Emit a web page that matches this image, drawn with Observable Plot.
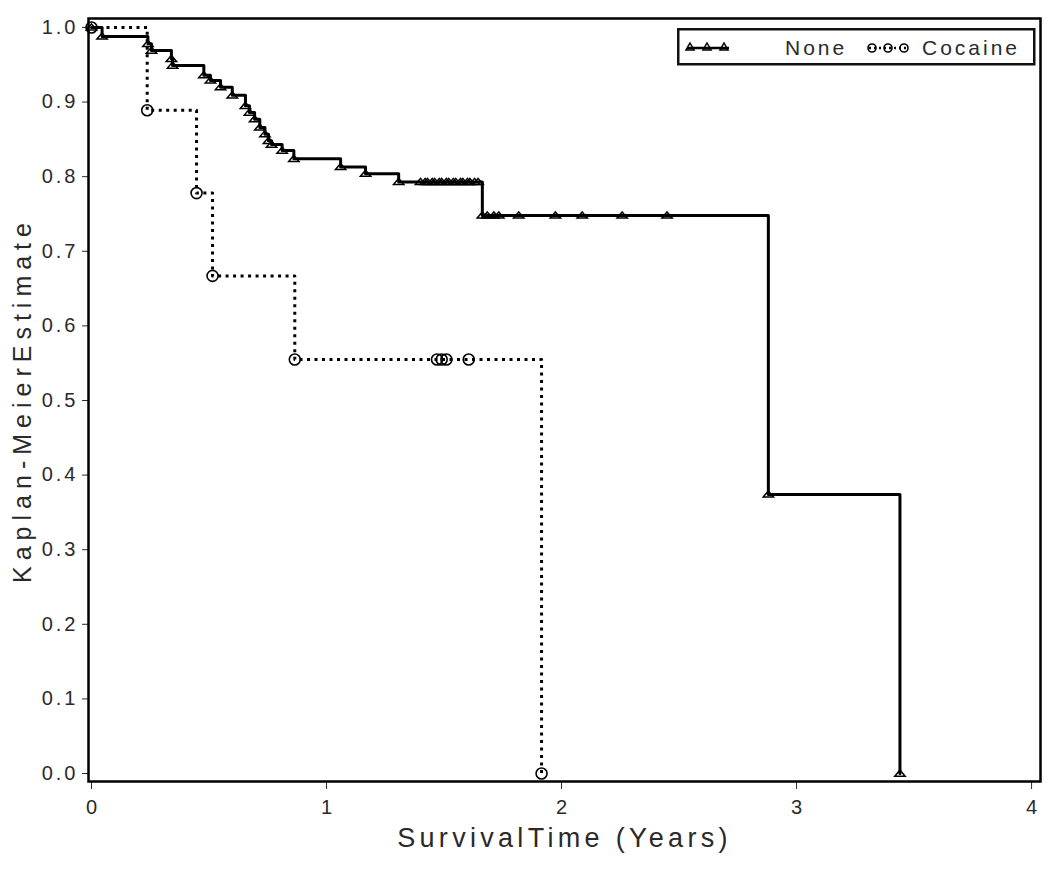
<!DOCTYPE html>
<html>
<head>
<meta charset="utf-8">
<script src="https://cdn.jsdelivr.net/npm/d3@7"></script>
<script src="https://cdn.jsdelivr.net/npm/@observablehq/plot@0.6"></script>
<style>
  body { margin: 0; background: #fff; }
  #wrap { position: relative; width: 1050px; height: 881px; background: #fff; }
  #legend { position: absolute; left: 677px; top: 28px; }
</style>
</head>
<body>
<div id="wrap"></div>
<script>
// ---- Data ----
// Group "None": Kaplan-Meier step points (time in years, survival estimate)
const noneTime = [0, 0.045, 0.24, 0.255, 0.34, 0.345, 0.478, 0.506, 0.549, 0.599, 0.655, 0.672, 0.694, 0.716, 0.738, 0.753, 0.766, 0.811, 0.861, 1.06, 1.166, 1.307, 1.663, 2.88, 3.44];
const noneSurv = [1.0, 0.988, 0.978, 0.969, 0.958, 0.949, 0.936, 0.929, 0.920, 0.909, 0.895, 0.886, 0.877, 0.866, 0.857, 0.848, 0.843, 0.835, 0.824, 0.813, 0.804, 0.793, 0.748, 0.374, 0.0];
// Group "None": censored observations
const noneCensTime = [1.40, 1.42, 1.43, 1.45, 1.46, 1.48, 1.49, 1.51, 1.52, 1.54, 1.55, 1.57, 1.58, 1.60, 1.61, 1.63, 1.645, 1.684, 1.712, 1.733, 1.818, 1.974, 2.088, 2.258, 2.449];
const noneCensSurv = [0.793, 0.793, 0.793, 0.793, 0.793, 0.793, 0.793, 0.793, 0.793, 0.793, 0.793, 0.793, 0.793, 0.793, 0.793, 0.793, 0.793, 0.748, 0.748, 0.748, 0.748, 0.748, 0.748, 0.748, 0.748];
// Group "Cocaine"
const cocTime = [0, 0.237, 0.447, 0.515, 0.865, 1.915];
const cocSurv = [1.0, 0.889, 0.778, 0.667, 0.555, 0.0];
const cocCensTime = [1.47, 1.49, 1.51, 1.605];
const cocCensSurv = [0.555, 0.555, 0.555, 0.555];

const groups = ["None", "Cocaine"];
const xTicks = [0, 1, 2, 3, 4];
const yTicks = [0, 0.1, 0.2, 0.3, 0.4, 0.5, 0.6, 0.7, 0.8, 0.9, 1.0];
const xTitle = "SurvivalTime (Years)";
const yTitle = "Kaplan-MeierEstimate";

// ---- Build tables ----
const noneSteps = noneTime.map((t, i) => ({t, s: noneSurv[i]}));
const noneCens = noneCensTime.map((t, i) => ({t, s: noneCensSurv[i]}));
const cocSteps = cocTime.map((t, i) => ({t, s: cocSurv[i]}));
const cocCens = cocCensTime.map((t, i) => ({t, s: cocCensSurv[i]}));

const flatTriangle = {
  draw(ctx, size) {
    const r = Math.sqrt(size / Math.PI);
    const w = r * 1.15, h = r * 0.78;
    ctx.moveTo(0, -h);
    ctx.lineTo(w, h * 0.75);
    ctx.lineTo(-w, h * 0.75);
    ctx.closePath();
  }
};

const FONT = "'Liberation Sans', Arial, sans-serif";
const INK = "#2a2a2a";

const chart = Plot.plot({
  width: 1050,
  height: 881,
  marginLeft: 88,
  marginRight: 10,
  marginTop: 18,
  marginBottom: 100,
  style: `font-family: ${FONT}; font-size: 20px; color: ${INK}; background: #fff; letter-spacing: 3px;`,
  x: {domain: [-0.0128, 4.038], ticks: xTicks, tickFormat: d => String(d), tickSize: 8, tickPadding: 10, label: null},
  y: {domain: [-0.0107, 1.012], ticks: yTicks, tickFormat: d => d.toFixed(1), tickSize: 6, tickPadding: 4, label: null},
  marks: [
    Plot.line(cocSteps, {x: "t", y: "s", curve: "step-after", stroke: "#000", strokeWidth: 3, strokeDasharray: "3,4.5", strokeLinecap: "butt"}),
    Plot.line(noneSteps, {x: "t", y: "s", curve: "step-after", stroke: "#000", strokeWidth: 3}),
    Plot.dot(cocSteps, {x: "t", y: "s", r: 5.5, symbol: "circle", stroke: "#000", strokeWidth: 1.6, fill: "none"}),
    Plot.dot(cocCens, {x: "t", y: "s", r: 5.5, symbol: "circle", stroke: "#000", strokeWidth: 1.6, fill: "none"}),
    Plot.dot(noneSteps, {x: "t", y: "s", r: 4.5, symbol: flatTriangle, stroke: "#000", strokeWidth: 1.5, fill: "none"}),
    Plot.dot(noneCens, {x: "t", y: "s", r: 4.5, symbol: flatTriangle, stroke: "#000", strokeWidth: 1.5, fill: "none"}),
    Plot.frame({stroke: "#000", strokeWidth: 2.5}),
    Plot.text([yTitle], {text: d => d, frameAnchor: "left", textAnchor: "middle", dx: -66, rotate: -90, fontSize: 25, fill: INK}),
    Plot.text([xTitle], {text: d => d, frameAnchor: "bottom", textAnchor: "middle", dy: 65, fontSize: 27, fill: INK})
  ]
});

const wrap = document.getElementById("wrap");
wrap.appendChild(chart);

// Letter spacing tweaks
const sel = d3.select(chart).selectAll("text");
sel.filter(function() { return this.textContent === yTitle; }).style("letter-spacing", "6px");
sel.filter(function() { return this.textContent === xTitle; }).style("letter-spacing", "4.3px");
sel.filter(function() { return xTicks.map(String).includes(this.textContent); }).style("letter-spacing", "0px");

// ---- Legend (inside plot area, top right) ----
const lg = d3.select(wrap).append("svg")
  .attr("id", "legend")
  .attr("width", 360).attr("height", 38);
lg.append("rect").attr("x", 1.25).attr("y", 1.25).attr("width", 356).attr("height", 35)
  .attr("fill", "#fff").attr("stroke", "#111").attr("stroke-width", 2.5);
// None sample
lg.append("line").attr("x1", 10).attr("x2", 52).attr("y1", 20).attr("y2", 20).attr("stroke", "#000").attr("stroke-width", 2.5);
[13, 30, 47].forEach(cx => {
  lg.append("path").attr("d", `M${cx},${15} L${cx + 4},${22} L${cx - 4},${22} Z`).attr("fill", "none").attr("stroke", "#000").attr("stroke-width", 1.5);
});
lg.append("text").attr("x", 108).attr("y", 27).text(groups[0])
  .attr("font-family", FONT).attr("font-size", 21).attr("fill", INK).style("letter-spacing", "3px");
// Cocaine sample
lg.append("line").attr("x1", 192).attr("x2", 230).attr("y1", 20).attr("y2", 20).attr("stroke", "#000").attr("stroke-width", 2.5).attr("stroke-dasharray", "2,3");
[195, 211, 227].forEach(cx => {
  lg.append("circle").attr("cx", cx).attr("cy", 20).attr("r", 4).attr("fill", "none").attr("stroke", "#000").attr("stroke-width", 1.6);
});
lg.append("text").attr("x", 245).attr("y", 27).text(groups[1])
  .attr("font-family", FONT).attr("font-size", 21).attr("fill", INK).style("letter-spacing", "3px");
</script>
</body>
</html>
